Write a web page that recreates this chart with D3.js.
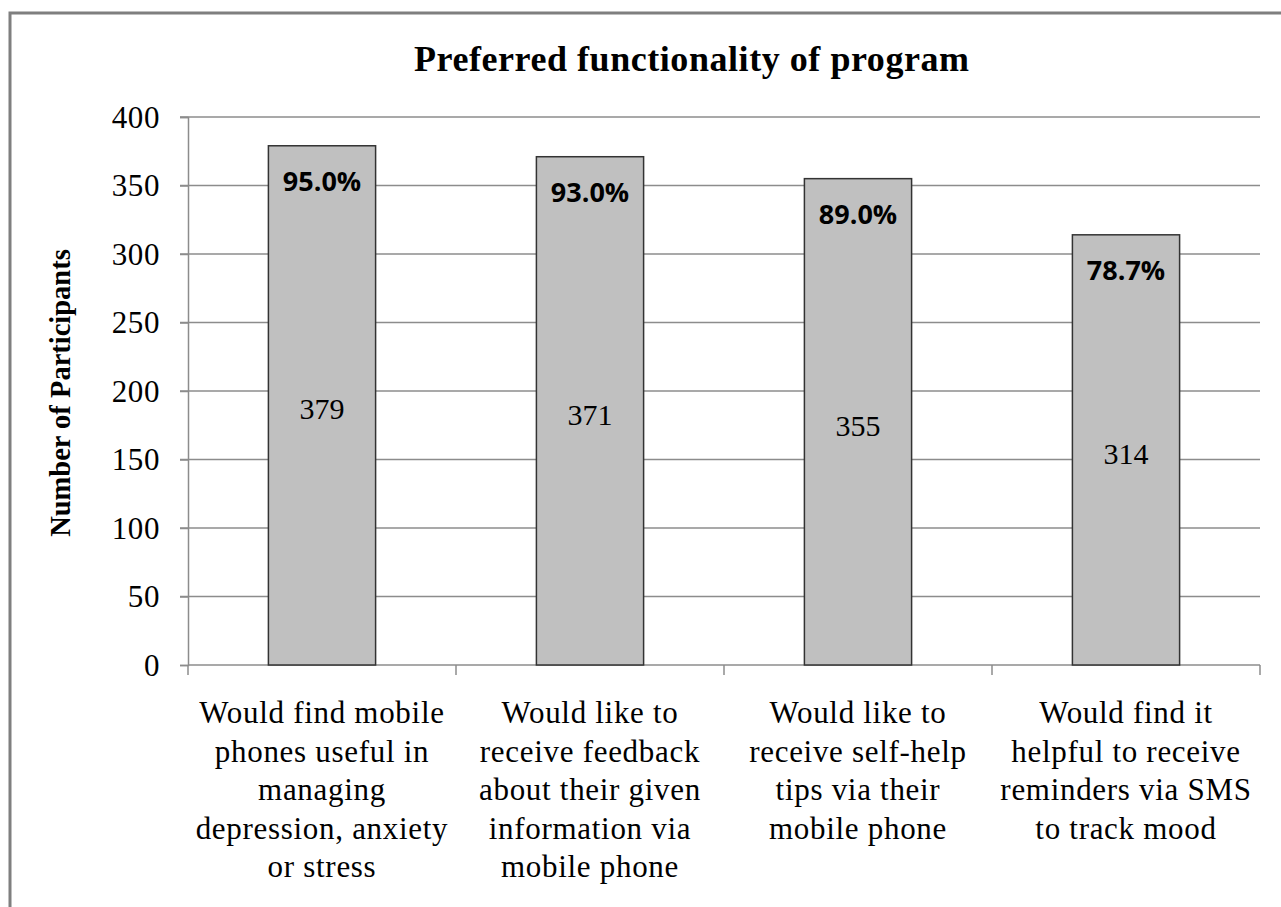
<!DOCTYPE html>
<html><head><meta charset="utf-8">
<script src="https://cdn.jsdelivr.net/npm/d3@7/dist/d3.min.js"></script>
<style>body{margin:0;background:#fff}svg{display:block}</style>
</head><body>
<svg id="chart" width="1281" height="907"></svg>
<script>
const categories = [
  ["Would find mobile","phones useful in","managing","depression, anxiety","or stress"],
  ["Would like to","receive feedback","about their given","information via","mobile phone"],
  ["Would like to","receive self-help","tips  via their","mobile phone"],
  ["Would find it","helpful to receive","reminders via SMS","to track mood"]
];
const values = [379, 371, 355, 314];
const percentLabels = ["95.0%", "93.0%", "89.0%", "78.7%"];
const yTicks = [0, 50, 100, 150, 200, 250, 300, 350, 400];
const title = "Preferred functionality of program";
const yTitle = "Number of Participants";

const svg = d3.select("#chart");
const serif = "'Liberation Serif','Times New Roman',serif";

// outer frame
svg.append("rect").attr("x", 10).attr("y", 13).attr("width", 1400).attr("height", 1000)
  .attr("fill", "none").attr("stroke", "#7f7f7f").attr("stroke-width", 3);

const pLeft = 188, pRight = 1260, pTop = 117, pBottom = 665;
const x = d3.scaleBand().domain(d3.range(categories.length)).range([pLeft, pRight]).paddingInner(0).paddingOuter(0);
const y = d3.scaleLinear().domain([0, 400]).range([pBottom, pTop]);

// gridlines
svg.append("g").selectAll("line").data(yTicks.filter(d => d > 0)).join("line")
  .attr("x1", pLeft - 8).attr("x2", pRight).attr("y1", d => y(d)).attr("y2", d => y(d))
  .attr("stroke", "#8c8c8c").attr("stroke-width", 1.5);

// y axis
const yAxis = d3.axisLeft(y).tickValues(yTicks).tickSize(8).tickPadding(20);
const gy = svg.append("g").attr("transform", `translate(${pLeft},0)`).call(yAxis);
gy.select(".domain").attr("stroke", "#8c8c8c").attr("stroke-width", 1.5);
gy.selectAll(".tick line").attr("stroke", "#8c8c8c").attr("stroke-width", 1.5);
gy.selectAll(".tick text").attr("font-family", serif).attr("font-size", 31).attr("letter-spacing", "0.6px")
  .attr("fill", "#000").attr("dy", "0.33em");

// x axis
const gx = svg.append("g").attr("transform", `translate(0,${pBottom})`);
gx.append("line").attr("x1", pLeft).attr("x2", pRight).attr("stroke", "#8c8c8c").attr("stroke-width", 1.5);
gx.selectAll("line.tk").data(d3.range(categories.length + 1)).join("line").attr("class", "tk")
  .attr("x1", i => i < categories.length ? x(i) : pRight).attr("x2", i => i < categories.length ? x(i) : pRight)
  .attr("y1", 0).attr("y2", 10).attr("stroke", "#8c8c8c").attr("stroke-width", 1.5);

// bars
const bw = x.bandwidth() * 0.4;
svg.append("g").selectAll("rect").data(values).join("rect")
  .attr("x", (d, i) => x(i) + x.bandwidth() / 2 - bw / 2)
  .attr("y", d => y(d)).attr("width", bw).attr("height", d => y(0) - y(d))
  .attr("fill", "#c0c0c0").attr("stroke", "#333").attr("stroke-width", 1.5);

// percent labels
svg.append("g").selectAll("text").data(values).join("text")
  .attr("x", (d, i) => x(i) + x.bandwidth() / 2).attr("y", d => y(d) + 45)
  .attr("text-anchor", "middle").attr("font-family", "'Open Sans',sans-serif").attr("font-weight", "bold")
  .attr("font-size", 27).attr("fill", "#000").text((d, i) => percentLabels[i]);

// value labels
svg.append("g").selectAll("text").data(values).join("text")
  .attr("x", (d, i) => x(i) + x.bandwidth() / 2).attr("y", d => (y(d) + y(0)) / 2 + 14)
  .attr("text-anchor", "middle").attr("font-family", serif).attr("font-size", 30).attr("fill", "#000").text(d => d);

// category labels
categories.forEach((lines, i) => {
  const t = svg.append("text").attr("text-anchor", "middle").attr("font-family", serif)
    .attr("font-size", 31).attr("letter-spacing", "0.7px").attr("fill", "#000");
  lines.forEach((ln, j) => {
    t.append("tspan").attr("x", x(i) + x.bandwidth() / 2).attr("y", 723 + j * 38.5).text(ln);
  });
});

// title
svg.append("text").attr("x", 414).attr("y", 71).attr("text-anchor", "start")
  .attr("font-family", serif).attr("font-weight", "bold").attr("font-size", 36)
  .attr("textLength", 555).attr("lengthAdjust", "spacing").attr("fill", "#000").text(title);

// y title
svg.append("text").attr("transform", `translate(70,${(pTop + pBottom) / 2 + 2}) rotate(-90)`)
  .attr("text-anchor", "middle").attr("font-family", serif).attr("font-weight", "bold")
  .attr("font-size", 28.5).attr("fill", "#000").text(yTitle);
</script>
</body></html>
